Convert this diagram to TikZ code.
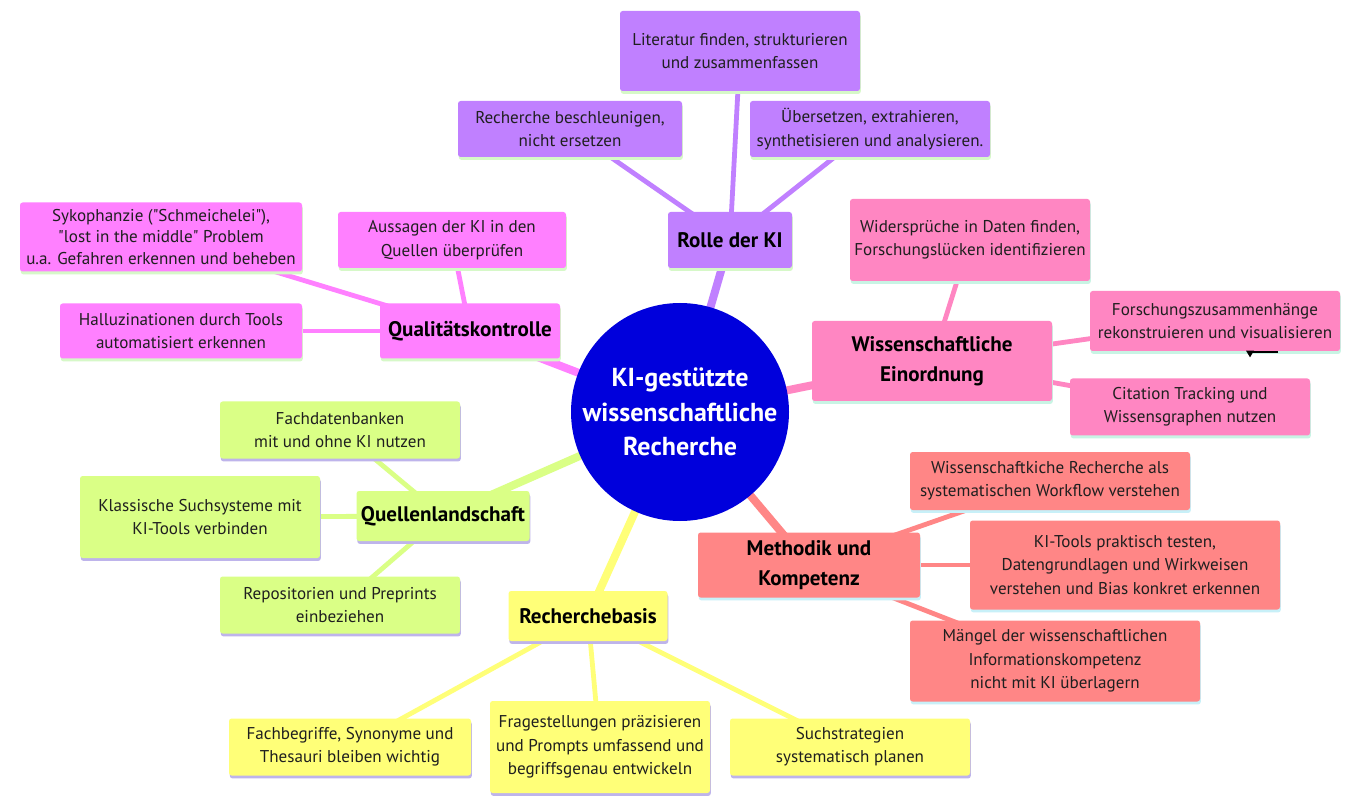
\documentclass[tikz,border=0pt]{standalone}
\usepackage{fontspec}
\setmainfont{PT Sans}
\usetikzlibrary{shadows,backgrounds}
\definecolor{cpurple}{RGB}{192,128,255}
\definecolor{cmagenta}{RGB}{255,128,255}
\definecolor{cpink}{RGB}{255,134,194}
\definecolor{csalmon}{RGB}{255,134,134}
\definecolor{cgreen}{RGB}{218,255,134}
\definecolor{cyellow}{RGB}{255,255,120}
\definecolor{cblue}{RGB}{0,0,220}
\definecolor{shgreen}{RGB}{214,248,200}
\definecolor{shmint}{RGB}{200,244,228}
\definecolor{shcyan}{RGB}{200,240,248}
\definecolor{shlav}{RGB}{190,180,235}
\pgfdeclarelayer{back}
\pgfsetlayers{back,background,main}
\tikzset{
  box/.style={rectangle, rounded corners=2pt, align=center, inner sep=2pt,
    font=\fontsize{12.8}{17.5}\selectfont, text=black!88},
  title/.style={box, font=\fontsize{15.8}{22.5}\selectfont\bfseries, text=black},
  sz/.style 2 args={minimum width=#1*0.75pt, minimum height=#2*0.75pt},
  sh/.style={drop shadow={shadow xshift=0.6pt, shadow yshift=-2.2pt, fill=#1, opacity=1}},
  pur/.style={fill=cpurple, sh=shgreen},
  mag/.style={fill=cmagenta, sh=shgreen},
  pnk/.style={fill=cpink, sh=shmint},
  sal/.style={fill=csalmon, sh=shcyan},
  grn/.style={fill=cgreen, sh=shlav},
  yel/.style={fill=cyellow, sh=shlav},
  main/.style={line width=6pt, draw=#1},
  sub/.style={line width=3.6pt, draw=#1},
}
\begin{document}
\begin{tikzpicture}[x=0.75pt, y=-0.75pt]
\useasboundingbox (0,0) rectangle (1360,805);
\begin{pgfonlayer}{back}
\fill[white] (0,0) rectangle (1360,805);
\end{pgfonlayer}

% centre
\node[circle, fill=cblue, minimum size=218*0.75pt, inner sep=0pt, align=center,
  text=white, font=\fontsize{19.5}{26}\selectfont\bfseries] (c) at (680,412)
  {KI-gestützte\\wissenschaftliche\\Recherche};

% Rolle der KI
\node[title, pur, sz={124}{56}] (rolle) at (730,240) {Rolle der KI};
\node[box, pur, sz={240}{80}] (lit) at (740,51) {Literatur finden, strukturieren\\und zusammenfassen};
\node[box, pur, sz={224}{56}] (besch) at (570,129) {Recherche beschleunigen,\\nicht ersetzen};
\node[box, pur, sz={240}{56}] (ueber) at (870,129) {Übersetzen, extrahieren,\\synthetisieren und analysieren.};

% Qualitaetskontrolle
\node[title, mag, sz={180}{55}] (qual) at (470,331) {Qualitätskontrolle};
\node[box, mag, sz={228}{56}] (aussag) at (452,240) {Aussagen der KI in den\\Quellen überprüfen};
\node[box, mag, sz={282}{69}, font=\fontsize{12.8}{15.8}\selectfont] (syko) at (161,237) {Sykophanzie (\textquotedbl Schmeichelei\textquotedbl),\\\textquotedbl lost in the middle\textquotedbl{} Problem\\u.a. Gefahren erkennen und beheben};
\node[box, mag, sz={242}{55}] (hallu) at (181,331) {Halluzinationen durch Tools\\automatisiert erkennen};

% Wissenschaftliche Einordnung
\node[title, pnk, sz={240}{80}] (einord) at (932,361) {Wissenschaftliche\\Einordnung};
\node[box, pnk, sz={240}{82}] (wider) at (970,240) {Widersprüche in Daten finden,\\Forschungslücken identifizieren};
\node[box, pnk, sz={250}{60}] (forsch) at (1215,321) {Forschungszusammenhänge\\rekonstruieren und visualisieren};
\node[box, pnk, sz={240}{57}] (cit) at (1190,407) {Citation Tracking und\\Wissensgraphen nutzen};

% Methodik und Kompetenz
\node[title, sal, sz={222}{65}] (meth) at (809,565) {Methodik und\\Kompetenz};
\node[box, sal, sz={280}{58}] (wsys) at (1050,481) {Wissenschaftkiche Recherche als\\systematischen Workflow verstehen};
\node[box, sal, sz={310}{89}] (kitools) at (1125,565) {KI-Tools praktisch testen,\\Datengrundlagen und Wirkweisen\\verstehen und Bias konkret erkennen};
\node[box, sal, sz={290}{81}] (maengel) at (1055,661) {Mängel der wissenschaftlichen\\Informationskompetenz\\nicht mit KI überlagern};

% Quellenlandschaft
\node[title, grn, sz={173}{50}] (quell) at (443,516) {Quellenlandschaft};
\node[box, grn, sz={240}{57}] (fachdb) at (340,430) {Fachdatenbanken\\mit und ohne KI nutzen};
\node[box, grn, sz={240}{82}] (klass) at (200,517) {Klassische Suchsysteme mit\\KI-Tools verbinden};
\node[box, grn, sz={240}{57}] (repo) at (340,605) {Repositorien und Preprints\\einbeziehen};

% Recherchebasis
\node[title, yel, sz={159}{50}] (rbasis) at (588,616) {Recherchebasis};
\node[box, yel, sz={242}{57}] (fachbeg) at (350,747) {Fachbegriffe, Synonyme und\\Thesauri bleiben wichtig};
\node[box, yel, sz={220}{92}] (frage) at (600,747) {Fragestellungen präzisieren\\und Prompts umfassend und\\begriffsgenau entwickeln};
\node[box, yel, sz={240}{57}] (such) at (850,747) {Suchstrategien\\systematisch planen};

% small arrow mark
\coordinate (arA) at (1278,352);
\coordinate (arB) at (1250,352);
\draw[black, line width=0.8pt] (arA) -- (arB);
\fill[black] ([xshift=-3pt,yshift=1pt]arB) -- ([xshift=3pt,yshift=1pt]arB) -- ([yshift=-4pt]arB) -- cycle;

\begin{pgfonlayer}{background}
\draw[main=cpurple] (c.center) -- (rolle.center);
\draw[main=cmagenta] (c.center) -- (qual.center);
\draw[main=cpink] (c.center) -- (einord.center);
\draw[main=csalmon] (c.center) -- (meth.center);
\draw[main=cgreen] (c.center) -- (quell.center);
\draw[main=cyellow] (c.center) -- (rbasis.center);

\draw[sub=cpurple] (rolle.center) -- (lit.center);
\draw[sub=cpurple] (rolle.center) -- (besch.center);
\draw[sub=cpurple] (rolle.center) -- (ueber.center);

\draw[sub=cmagenta] (qual.center) -- (aussag.center);
\draw[sub=cmagenta] (qual.center) -- (syko.center);
\draw[sub=cmagenta] (qual.center) -- (hallu.center);

\draw[sub=cpink] (einord.center) -- (wider.center);
\draw[sub=cpink] (einord.center) -- (forsch.center);
\draw[sub=cpink] (einord.center) -- (cit.center);

\draw[sub=csalmon] (meth.center) -- (wsys.center);
\draw[sub=csalmon] (meth.center) -- (kitools.center);
\draw[sub=csalmon] (meth.center) -- (maengel.center);

\draw[sub=cgreen] (quell.center) -- (fachdb.center);
\draw[sub=cgreen] (quell.center) -- (klass.center);
\draw[sub=cgreen] (quell.center) -- (repo.center);

\draw[sub=cyellow] (rbasis.center) -- (fachbeg.center);
\draw[sub=cyellow] (rbasis.center) -- (frage.center);
\draw[sub=cyellow] (rbasis.center) -- (such.center);
\end{pgfonlayer}
\end{tikzpicture}
\end{document}
